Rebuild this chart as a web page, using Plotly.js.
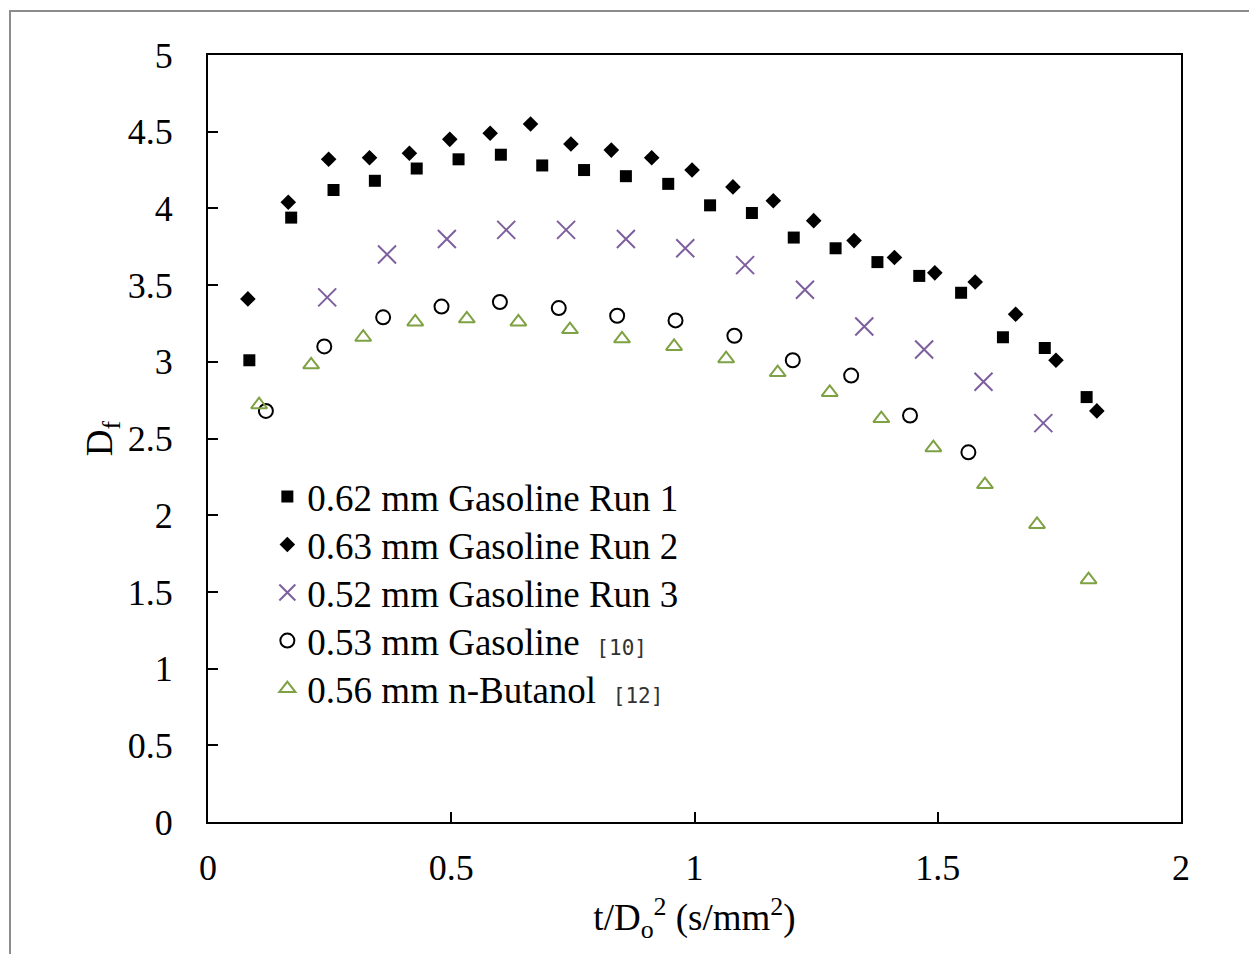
<!DOCTYPE html>
<html>
<head>
<meta charset="utf-8">
<script src="https://cdn.plot.ly/plotly-3.0.1.min.js"></script>
<style>
  html, body { margin: 0; padding: 0; background: #ffffff; }
  #wrap { position: relative; width: 1249px; height: 954px; }
  #frame { position: absolute; left: 9px; top: 10px; width: 1300px; height: 1000px;
           border-top: 2px solid #8c8c8c; border-left: 2px solid #8c8c8c; box-sizing: border-box; }
  #chart { position: absolute; left: 0; top: 0; width: 1249px; height: 954px; }
</style>
</head>
<body>
<div id="wrap">
  <div id="frame"></div>
  <div id="chart"></div>
</div>
<script>
// ---- Data ----
const run1X = [0.085, 0.171, 0.258, 0.343, 0.429, 0.515, 0.602, 0.687, 0.773, 0.859, 0.946, 1.032, 1.118, 1.204, 1.290, 1.376, 1.462, 1.548, 1.634, 1.720, 1.806];
const run1Y = [3.01, 3.94, 4.12, 4.18, 4.26, 4.32, 4.35, 4.28, 4.25, 4.21, 4.16, 4.02, 3.97, 3.81, 3.74, 3.65, 3.56, 3.45, 3.16, 3.09, 2.77];

const run2X = [0.082, 0.165, 0.248, 0.332, 0.414, 0.497, 0.580, 0.663, 0.746, 0.829, 0.912, 0.995, 1.079, 1.162, 1.245, 1.328, 1.411, 1.494, 1.577, 1.660, 1.743, 1.827];
const run2Y = [3.41, 4.04, 4.32, 4.33, 4.36, 4.45, 4.49, 4.55, 4.42, 4.38, 4.33, 4.25, 4.14, 4.05, 3.92, 3.79, 3.68, 3.58, 3.52, 3.31, 3.01, 2.68];

const run3X = [0.245, 0.368, 0.491, 0.613, 0.736, 0.859, 0.981, 1.104, 1.227, 1.349, 1.472, 1.594, 1.717];
const run3Y = [3.42, 3.70, 3.80, 3.86, 3.86, 3.80, 3.74, 3.63, 3.47, 3.23, 3.08, 2.87, 2.60];

const gas10X = [0.119, 0.239, 0.360, 0.480, 0.600, 0.721, 0.841, 0.961, 1.082, 1.202, 1.322, 1.443, 1.563];
const gas10Y = [2.68, 3.10, 3.29, 3.36, 3.39, 3.35, 3.30, 3.27, 3.17, 3.01, 2.91, 2.65, 2.41];

const but12X = [0.105, 0.212, 0.319, 0.426, 0.532, 0.638, 0.744, 0.851, 0.958, 1.065, 1.171, 1.278, 1.384, 1.491, 1.597, 1.704, 1.810];
const but12Y = [2.72, 2.98, 3.16, 3.26, 3.28, 3.26, 3.21, 3.15, 3.10, 3.02, 2.93, 2.80, 2.63, 2.44, 2.20, 1.94, 1.58];

const refStyle = 'font-family:\'DejaVu Sans Mono\';font-size:21px;fill:#333333';
const seriesNames = [
  '0.62 mm Gasoline Run 1',
  '0.63 mm Gasoline Run 2',
  '0.52 mm Gasoline Run 3',
  '0.53 mm Gasoline&#8201; <span style="' + refStyle + '">[10]</span>',
  '0.56 mm n-Butanol&#8201; <span style="' + refStyle + '">[12]</span>'
];

const xTickVals = [0, 0.5, 1, 1.5, 2];
const xTickText = ['0', '0.5', '1', '1.5', '2'];
const yTickVals = [0, 0.5, 1, 1.5, 2, 2.5, 3, 3.5, 4, 4.5, 5];
const yTickText = ['0', '0.5', '1', '1.5', '2', '2.5', '3', '3.5', '4', '4.5', '5'];

// ---- Styles ----
const purple = '#7d5e9e';
const green = '#7ea143';
const serif = 'Liberation Serif, Times New Roman, serif';
const legendIds = ['legend', 'legend2', 'legend3', 'legend4', 'legend5'];
const legendY = [0.4641, 0.4016, 0.3390, 0.2764, 0.2138];

const traces = [
  { x: run1X, y: run1Y, name: seriesNames[0], type: 'scatter', mode: 'markers', legend: legendIds[0],
    marker: { symbol: 'square', size: 12, color: '#000000' } },
  { x: run2X, y: run2Y, name: seriesNames[1], type: 'scatter', mode: 'markers', legend: legendIds[1],
    marker: { symbol: 'diamond', size: 12, color: '#000000' } },
  { x: run3X, y: run3Y, name: seriesNames[2], type: 'scatter', mode: 'markers', legend: legendIds[2],
    marker: { symbol: 'x-thin-open', size: 18, color: purple, line: { color: purple, width: 2 } } },
  { x: gas10X, y: gas10Y, name: seriesNames[3], type: 'scatter', mode: 'markers', legend: legendIds[3],
    marker: { symbol: 'circle-open', size: 14, color: '#000000', line: { color: '#000000', width: 2 } } },
  { x: but12X, y: but12Y, name: seriesNames[4], type: 'scatter', mode: 'markers', legend: legendIds[4],
    marker: { symbol: 'triangle-up-open', size: 14, color: green, line: { color: green, width: 2 } } }
];

const layout = {
  width: 1249, height: 954,
  margin: { l: 208, r: 68, t: 55, b: 132, pad: 0 },
  paper_bgcolor: 'rgba(0,0,0,0)',
  plot_bgcolor: '#ffffff',
  font: { family: serif, size: 36, color: '#000000' },
  showlegend: true,
  xaxis: {
    range: [0, 2], tickmode: 'array', tickvals: xTickVals, ticktext: xTickText,
    ticks: 'inside', ticklen: 10, tickwidth: 2, tickcolor: '#000000',
    showline: true, linecolor: '#000000', linewidth: 2, mirror: true,
    showgrid: false, zeroline: false, ticklabelstandoff: 13,
    tickfont: { family: serif, size: 36, color: '#000000' },
    title: { text: 't/D<sub>o</sub><sup>2</sup> (s/mm<sup>2</sup>)', standoff: 17,
             font: { family: serif, size: 37, color: '#000000' } }
  },
  yaxis: {
    range: [0, 5], tickmode: 'array', tickvals: yTickVals, ticktext: yTickText,
    ticks: 'inside', ticklen: 10, tickwidth: 2, tickcolor: '#000000',
    showline: true, linecolor: '#000000', linewidth: 2, mirror: true,
    showgrid: false, zeroline: false, ticklabelstandoff: 26,
    tickfont: { family: serif, size: 36, color: '#000000' },
    title: { text: 'D<sub>f</sub>', standoff: 4,
             font: { family: serif, size: 37, color: '#000000' } }
  }
};

legendIds.forEach(function (id, i) {
  layout[id] = {
    x: 0.061, y: legendY[i], xanchor: 'left', yanchor: 'top',
    bgcolor: 'rgba(0,0,0,0)', borderwidth: 0, itemwidth: 30,
    font: { family: serif, size: 37, color: '#000000' }
  };
});

Plotly.newPlot('chart', traces, layout, { displayModeBar: false, staticPlot: true });
</script>
</body>
</html>
